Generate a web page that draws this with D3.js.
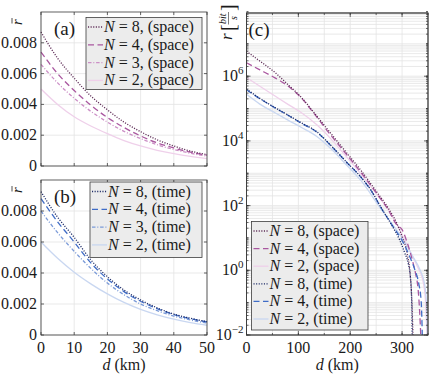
<!DOCTYPE html>
<html>
<head>
<meta charset="utf-8">
<script src="https://cdn.jsdelivr.net/npm/d3@7/dist/d3.min.js"></script>
<style>
body { margin: 0; background: #fff; }
</style>
</head>
<body>
<svg width="436" height="374"></svg>
<script>
// distance grid for panels (a) and (b), km
var distKm = [0, 5, 10, 15, 20, 25, 30, 35, 40, 45, 50];
var distTicks = [0, 10, 20, 30, 40, 50];
var rbarTicks = [0, 0.002, 0.004, 0.006, 0.008];

// (a) space
var spaceN8 = [0.0087, 0.0070, 0.0057, 0.00455, 0.00365, 0.00285, 0.00223, 0.0017, 0.0013, 0.00097, 0.00074];
var spaceN4 = [0.0074, 0.0060, 0.0049, 0.00395, 0.00315, 0.0025, 0.00195, 0.0015, 0.00117, 0.0009, 0.0007];
var spaceN3 = [0.0066, 0.0054, 0.0044, 0.00355, 0.00285, 0.00225, 0.00178, 0.00138, 0.00107, 0.00083, 0.00064];
var spaceN2 = [0.0050, 0.0040, 0.0032, 0.0026, 0.0021, 0.00165, 0.0013, 0.00102, 0.0008, 0.00062, 0.00048];

// (b) time
var timeN8 = [0.00925, 0.0076, 0.0063, 0.00485, 0.00376, 0.0029, 0.00226, 0.00175, 0.00135, 0.00108, 0.00086];
var timeN4 = [0.0088, 0.0073, 0.0060, 0.00465, 0.00362, 0.0028, 0.00218, 0.0017, 0.00132, 0.00105, 0.00084];
var timeN3 = [0.0080, 0.0066, 0.0054, 0.0043, 0.00335, 0.0026, 0.0020, 0.00157, 0.00122, 0.00097, 0.00077];
var timeN2 = [0.0060, 0.00495, 0.00405, 0.0033, 0.00265, 0.0021, 0.00165, 0.0013, 0.00102, 0.0008, 0.00063];

// (c) rate in bit/s vs distance
var cSpaceN8Dist = [0, 25, 55, 80, 106, 135, 164, 193, 222, 250, 273, 290, 300, 310, 316, 319, 321];
var cSpaceN8Rate = [5.9e6, 3.0e6, 1.3e6, 5.5e5, 2.2e5, 6.0e4, 1.6e4, 4.3e3, 1150, 280, 85, 28, 11, 3.2, 0.63, 0.1, 0.01];
var cSpaceN4Dist = [0, 25, 55, 80, 106, 130, 164, 193, 222, 250, 273, 290, 300, 310, 320, 326, 331, 334, 336];
var cSpaceN4Rate = [2.6e6, 1.6e6, 8.9e5, 5.0e5, 2.1e5, 7.1e4, 1.4e4, 3.8e3, 1000, 250, 76, 25, 18, 7.1, 2.0, 0.8, 0.25, 0.05, 0.01];
var cSpaceN2Dist = [0, 25, 55, 80, 106, 135, 164, 193, 222, 250, 273, 290, 300, 315, 330, 340, 345, 348];
var cSpaceN2Rate = [9.1e5, 5.0e5, 2.45e5, 1.35e5, 7.4e4, 3.2e4, 1.1e4, 3.2e3, 890, 240, 76, 26, 12.6, 4.0, 1.26, 0.5, 0.126, 0.01];
var cTimeN8Dist = [0, 25, 55, 80, 106, 135, 164, 193, 222, 240, 260, 280, 295, 305, 312, 316, 318, 319, 319.5];
var cTimeN8Rate = [4.0e5, 2.1e5, 1.07e5, 6.3e4, 3.6e4, 1.95e4, 6.9e3, 2.2e3, 720, 300, 85, 25, 8.9, 3.5, 1.6, 0.63, 0.2, 0.05, 0.01];
var cTimeN4Dist = [0, 25, 55, 80, 106, 135, 164, 193, 222, 240, 260, 280, 300, 315, 325, 332, 337, 339];
var cTimeN4Rate = [3.8e5, 2.05e5, 1.05e5, 6.2e4, 3.5e4, 1.9e4, 6.8e3, 2.2e3, 710, 295, 83, 26, 8.3, 2.6, 1.0, 0.4, 0.1, 0.01];
var cTimeN2Dist = [0, 25, 55, 80, 106, 135, 164, 193, 222, 260, 280, 300, 320, 335, 343, 347, 349];
var cTimeN2Rate = [2.75e5, 1.4e5, 7.4e4, 4.4e4, 2.6e4, 1.4e4, 5.5e3, 1.8e3, 560, 76, 28, 10, 2.8, 1.0, 0.4, 0.1, 0.01];
var cDistTicks = [0, 100, 200, 300];
var cExpLabels = [-2, 0, 2, 4, 6];

//Colors and dash styles
var ink = '#262626';
var gridCol = '#e3e3e3';
var purple = { 8: '#5c2a55', 4: '#a9579f', 3: '#cc8fc6', 2: '#efd0ea' };
var blue = { 8: '#1c2a66', 4: '#3f6cc6', 3: '#7a9ad8', 2: '#c9d7f1' };
var dash = { 8: '1.1 1.5', 4: '6 3.5', 3: '3.5 1.8 1 1.8', 2: null };
var serif = "'Liberation Serif', 'Times New Roman', serif";

var svg = d3.select('svg');

//draws box and grid of a panel
function drawFrame(box, x, y, xt, yt) {
    var g = svg.append('g');
    var w = box.r - box.l, h = box.b - box.t;
    g.append('rect').attr('x', box.l).attr('y', box.t).attr('width', w).attr('height', h).attr('fill', '#fff');
    g.append('g').selectAll('line').data(xt).enter().append('line')
        .attr('x1', function (d) { return x(d); }).attr('x2', function (d) { return x(d); })
        .attr('y1', box.t).attr('y2', box.b).attr('stroke', gridCol).attr('stroke-width', 0.8);
    g.append('g').selectAll('line').data(yt).enter().append('line')
        .attr('y1', function (d) { return y(d); }).attr('y2', function (d) { return y(d); })
        .attr('x1', box.l).attr('x2', box.r).attr('stroke', gridCol).attr('stroke-width', 0.8);
    return g;
}

// inward ticks on all four sides plus the border
function ticksAndBorder(box, x, y, xt, yt, len) {
    var g = svg.append('g').attr('stroke', ink).attr('stroke-width', 0.7);
    xt.forEach(function (d) {
        g.append('line').attr('x1', x(d)).attr('x2', x(d)).attr('y1', box.b).attr('y2', box.b - len);
        g.append('line').attr('x1', x(d)).attr('x2', x(d)).attr('y1', box.t).attr('y2', box.t + len);
    });
    yt.forEach(function (d) {
        g.append('line').attr('y1', y(d)).attr('y2', y(d)).attr('x1', box.l).attr('x2', box.l + len);
        g.append('line').attr('y1', y(d)).attr('y2', y(d)).attr('x1', box.r).attr('x2', box.r - len);
    });
    g.append('rect').attr('x', box.l).attr('y', box.t).attr('width', box.r - box.l).attr('height', box.b - box.t)
        .attr('fill', 'none').attr('stroke', '#3a3a3a').attr('stroke-width', 0.8);
}

function drawSeries(x, y, xs, ys, col, dsh, clipId) {
    var pts = xs.map(function (d, i) { return [d, ys[i]]; });
    var line = d3.line().x(function (p) { return x(p[0]); }).y(function (p) { return y(p[1]); })
        .curve(d3.curveMonotoneX);
    svg.append('path').datum(pts).attr('d', line).attr('fill', 'none')
        .attr('stroke', col).attr('stroke-width', 1.3)
        .attr('stroke-dasharray', dsh)
        .attr('clip-path', clipId ? 'url(#' + clipId + ')' : null);
}

function txt(sel) {
    return sel.style('font-family', serif).attr('fill', '#1a1a1a');
}

function legend(box, rows, step) {
    var g = svg.append('g');
    g.append('rect').attr('x', box.l).attr('y', box.t).attr('width', box.r - box.l).attr('height', box.b - box.t)
        .attr('fill', '#ececec').attr('stroke', '#3d3d3d').attr('stroke-width', 0.8);
    rows.forEach(function (r, i) {
        var yy = box.t + 9.5 + i * step;
        g.append('line').attr('x1', box.l + 2).attr('x2', box.l + 17).attr('y1', yy).attr('y2', yy)
            .attr('stroke', r.col).attr('stroke-width', 1.3).attr('stroke-dasharray', r.dash);
        var t = txt(g.append('text')).attr('x', box.l + 18).attr('y', yy + 5).style('font-size', '16px');
        t.append('tspan').style('font-style', 'italic').text('N');
        t.append('tspan').text(' = ' + r.n + ', (' + r.kind + ')');
    });
}

function panelLabel(px, py, s) {
    txt(svg.append('text')).attr('x', px).attr('y', py).style('font-size', '19px').text(s);
}

//Panel (a) and (b): linear rate vs distance
function linearPanel(box, series, colors, kind, tag, showX) {
    var x = d3.scaleLinear().domain([0, 50]).range([box.l, box.r]);
    var y = d3.scaleLinear().domain([0, 0.01]).range([box.b, box.t]);
    drawFrame(box, x, y, distTicks, rbarTicks);
    var ns = [2, 3, 4, 8];
    ns.forEach(function (n) {
        drawSeries(x, y, distKm, series[n], colors[n], dash[n]);
    });
    ticksAndBorder(box, x, y, distTicks, rbarTicks, 3);
    txt(svg.append('g').selectAll('text').data(rbarTicks).enter().append('text'))
        .attr('x', box.l - 4).attr('y', function (d) { return y(d) + 5; })
        .attr('text-anchor', 'end').style('font-size', '16px')
        .text(function (d) { return d === 0 ? '0' : d3.format('.3f')(d); });
    if (showX) {
        txt(svg.append('g').selectAll('text').data(distTicks).enter().append('text'))
            .attr('x', function (d) { return x(d); }).attr('y', box.b + 18)
            .attr('text-anchor', 'middle').style('font-size', '16px').text(function (d) { return d; });
        var xl = txt(svg.append('text')).attr('x', (box.l + box.r) / 2).attr('y', box.b + 35)
            .attr('text-anchor', 'middle').style('font-size', '16px');
        xl.append('tspan').style('font-style', 'italic').text('d');
        xl.append('tspan').text(' (km)');
    }
    // r with a bar over it, rotated
    var rb = svg.append('g').attr('transform', 'translate(' + (box.l - 19) + ',' + (box.t + 13) + ')rotate(-90)');
    txt(rb.append('text')).attr('x', 0).attr('y', 0).style('font-size', '15px').style('font-style', 'italic').text('r');
    rb.append('line').attr('x1', 1.5).attr('x2', 7).attr('y1', -10).attr('y2', -10)
        .attr('stroke', ink).attr('stroke-width', 0.8);
    panelLabel(box.l + 13, box.t + 23, tag);
    var rows = [8, 4, 3, 2].map(function (n) { return { n: n, col: colors[n], dash: dash[n], kind: kind }; });
    return rows;
}

var boxA = { l: 41, t: 12, r: 207, b: 166 };
var boxB = { l: 41, t: 180, r: 207, b: 335 };
var boxC = { l: 246.5, t: 13, r: 428, b: 335 };

var rowsA = linearPanel(boxA, { 8: spaceN8, 4: spaceN4, 3: spaceN3, 2: spaceN2 }, purple, 'space', '(a)', false);
legend({ l: 86, t: 17.5, r: 202, b: 89.5 }, rowsA, 17.8);
var rowsB = linearPanel(boxB, { 8: timeN8, 4: timeN4, 3: timeN3, 2: timeN2 }, blue, 'time', '(b)', true);
legend({ l: 90, t: 182, r: 202, b: 257.5 }, rowsB, 17.8);

//Panel (c): log rate
var xC = d3.scaleLinear().domain([0, 350]).range([boxC.l, boxC.r]);
var yC = d3.scaleLog().domain([1e-2, 9e7]).range([boxC.b, boxC.t]);
var xMinor = d3.range(0, 351, 50);
var yMinor = [];
for (var e = -2; e < 8; e++) {
    for (var m = 1; m < 10; m++) yMinor.push(m * Math.pow(10, e));
}
drawFrame(boxC, xC, yC, xMinor, yMinor);
svg.append('defs').append('clipPath').attr('id', 'clipC').append('rect')
    .attr('x', boxC.l).attr('y', boxC.t).attr('width', boxC.r - boxC.l).attr('height', boxC.b - boxC.t);

var cSeries = [
    { d: cSpaceN2Dist, r: cSpaceN2Rate, col: purple[2], dash: dash[2] },
    { d: cTimeN2Dist, r: cTimeN2Rate, col: blue[2], dash: dash[2] },
    { d: cSpaceN4Dist, r: cSpaceN4Rate, col: purple[4], dash: dash[4] },
    { d: cSpaceN8Dist, r: cSpaceN8Rate, col: purple[8], dash: dash[8] },
    { d: cTimeN4Dist, r: cTimeN4Rate, col: blue[4], dash: dash[4] },
    { d: cTimeN8Dist, r: cTimeN8Rate, col: blue[8], dash: dash[8] }
];
cSeries.forEach(function (s) { drawSeries(xC, yC, s.d, s.r, s.col, s.dash, 'clipC'); });

var decades = d3.range(-2, 9).map(function (e) { return Math.pow(10, e); });
ticksAndBorder(boxC, xC, yC, xMinor, decades.concat(yMinor.filter(function (v) { return v > 1.5e-2; })), 2);
ticksAndBorder(boxC, xC, yC, cDistTicks, cExpLabels.map(function (e) { return Math.pow(10, e); }), 4);

txt(svg.append('g').selectAll('text').data(cDistTicks).enter().append('text'))
    .attr('x', function (d) { return xC(d); }).attr('y', boxC.b + 18)
    .attr('text-anchor', 'middle').style('font-size', '16px').text(function (d) { return d; });
var xlc = txt(svg.append('text')).attr('x', (boxC.l + boxC.r) / 2).attr('y', boxC.b + 35)
    .attr('text-anchor', 'middle').style('font-size', '16px');
xlc.append('tspan').style('font-style', 'italic').text('d');
xlc.append('tspan').text(' (km)');

cExpLabels.forEach(function (e) {
    var t = txt(svg.append('text')).attr('x', boxC.l - 3).attr('y', yC(Math.pow(10, e)) + 5)
        .attr('text-anchor', 'end').style('font-size', '16px');
    t.append('tspan').text('10');
    t.append('tspan').attr('dy', -7).style('font-size', '11px').text(e < 0 ? '\u2212' + (-e) : e);
});

// y label r [bit/s], rotated
var yl = svg.append('g').attr('transform', 'translate(232,40)rotate(-90)');
txt(yl.append('text')).attr('x', 0).attr('y', 0).style('font-size', '17px').style('font-style', 'italic').text('r');
txt(yl.append('text')).attr('x', 9).attr('y', 3).style('font-size', '20px').text('[');
txt(yl.append('text')).attr('x', 16).attr('y', -6).style('font-size', '10px').style('font-style', 'italic').text('bit');
yl.append('line').attr('x1', 15.5).attr('x2', 28).attr('y1', -3.5).attr('y2', -3.5).attr('stroke', ink).attr('stroke-width', 0.6);
txt(yl.append('text')).attr('x', 20).attr('y', 5).style('font-size', '10px').style('font-style', 'italic').text('s');
txt(yl.append('text')).attr('x', 29).attr('y', 3).style('font-size', '20px').text(']');

panelLabel(boxC.l + 2, boxC.t + 23, '(c)');

var rowsC = [
    { n: 8, col: purple[8], dash: dash[8], kind: 'space' },
    { n: 4, col: purple[4], dash: dash[4], kind: 'space' },
    { n: 2, col: purple[2], dash: dash[2], kind: 'space' },
    { n: 8, col: blue[8], dash: dash[8], kind: 'time' },
    { n: 4, col: blue[4], dash: dash[4], kind: 'time' },
    { n: 2, col: blue[2], dash: dash[2], kind: 'time' }
];
legend({ l: 251.5, t: 221.5, r: 368, b: 330 }, rowsC, 17.6);
</script>
</body>
</html>
